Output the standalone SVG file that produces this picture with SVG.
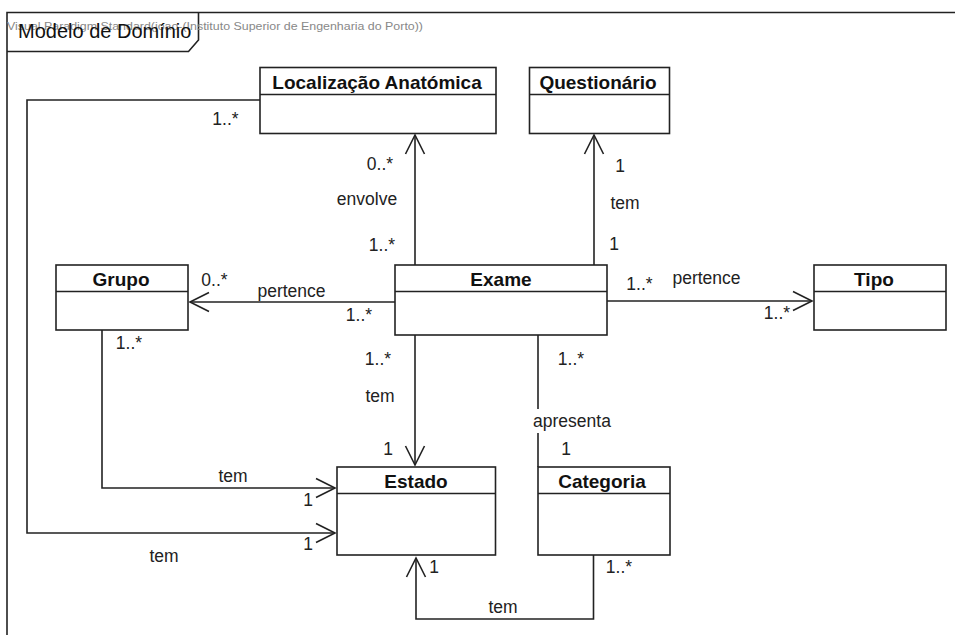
<svg xmlns="http://www.w3.org/2000/svg" width="955" height="635" viewBox="0 0 955 635">
<style>
.box{fill:#fff;stroke:#222;stroke-width:1.6}
.hdr{stroke:#222;stroke-width:1.6}
.name{font-family:"Liberation Sans",Arial,sans-serif;font-weight:bold;font-size:19px;fill:#111;text-anchor:middle}
.lbl{font-family:"Liberation Sans",Arial,sans-serif;font-size:17.5px;fill:#222;text-anchor:middle}
.con{fill:none;stroke:#222;stroke-width:1.6}
</style>
<defs>
<marker id="open" markerUnits="userSpaceOnUse" markerWidth="24" markerHeight="24" viewBox="-21 -12 24 24" refX="0" refY="0" orient="auto">
<path d="M-19,-9.5 L0,0 L-19,9.5" fill="none" stroke="#222" stroke-width="1.6"/>
</marker>
</defs>
<rect width="955" height="635" fill="#fff"/>
<g id="frame">
<path d="M7,635 L7,12.5 L955,12.5" fill="none" stroke="#222" stroke-width="1.6"/>
<path d="M7,51.5 L188.5,51.5 L198.5,40 L198.5,12.5" fill="none" stroke="#222" stroke-width="1.6"/>
<text x="7" y="30" font-family="'Liberation Sans',Arial,sans-serif" font-size="11.5" fill="#888" textLength="416" lengthAdjust="spacingAndGlyphs">Visual Paradigm Standard(joao-(Instituto Superior de Engenharia do Porto))</text>
<text x="18" y="37.5" font-family="'Liberation Sans',Arial,sans-serif" font-size="20" fill="#111">Modelo de Domínio</text>
</g>
<g id="connectors">
<line class="con" x1="415" y1="265" x2="415" y2="135" marker-end="url(#open)"/>
<line class="con" x1="594" y1="265" x2="594" y2="135" marker-end="url(#open)"/>
<line class="con" x1="395" y1="302" x2="190" y2="302" marker-end="url(#open)"/>
<line class="con" x1="607" y1="301" x2="812" y2="301" marker-end="url(#open)"/>
<line class="con" x1="415" y1="335" x2="415" y2="465" marker-end="url(#open)"/>
<line class="con" x1="538" y1="335" x2="538" y2="467"/>
<polyline class="con" points="102,330 102,488 335,488" marker-end="url(#open)"/>
<polyline class="con" points="260,100 27,100 27,533 335,533" marker-end="url(#open)"/>
<polyline class="con" points="593.5,555 593.5,619 416,619 416,558" marker-end="url(#open)"/>
<rect x="530" y="409" width="16" height="24" fill="#fff"/>
<text class="lbl" x="225.5" y="125">1..*</text>
<text class="lbl" x="380" y="170">0..*</text>
<text class="lbl" x="367" y="205">envolve</text>
<text class="lbl" x="382" y="251">1..*</text>
<text class="lbl" x="620" y="172">1</text>
<text class="lbl" x="625" y="209">tem</text>
<text class="lbl" x="614" y="250">1</text>
<text class="lbl" x="214.5" y="286">0..*</text>
<text class="lbl" x="291.5" y="297">pertence</text>
<text class="lbl" x="359" y="321">1..*</text>
<text class="lbl" x="639.5" y="290">1..*</text>
<text class="lbl" x="706.5" y="284">pertence</text>
<text class="lbl" x="777" y="319">1..*</text>
<text class="lbl" x="129" y="349">1..*</text>
<text class="lbl" x="378" y="365">1..*</text>
<text class="lbl" x="380" y="402">tem</text>
<text class="lbl" x="388" y="455">1</text>
<text class="lbl" x="571" y="365">1..*</text>
<text class="lbl" x="572" y="427">apresenta</text>
<text class="lbl" x="566" y="455">1</text>
<text class="lbl" x="233" y="482">tem</text>
<text class="lbl" x="308" y="506">1</text>
<text class="lbl" x="308" y="550">1</text>
<text class="lbl" x="164" y="562">tem</text>
<text class="lbl" x="434" y="573">1</text>
<text class="lbl" x="619" y="573">1..*</text>
<text class="lbl" x="503" y="613">tem</text>
</g>
<g id="localizacao">
<rect class="box" x="260" y="67.5" width="236" height="66"/>
<line class="hdr" x1="260" y1="94.5" x2="496" y2="94.5"/>
<text class="name" x="377" y="88.5">Localização Anatómica</text>
</g>
<g id="questionario">
<rect class="box" x="529.5" y="67.5" width="140" height="66"/>
<line class="hdr" x1="529.5" y1="94.5" x2="669.5" y2="94.5"/>
<text class="name" x="598" y="88.5">Questionário</text>
</g>
<g id="exame">
<rect class="box" x="395" y="265" width="212" height="70"/>
<line class="hdr" x1="395" y1="291.5" x2="607" y2="291.5"/>
<text class="name" x="501" y="286">Exame</text>
</g>
<g id="grupo">
<rect class="box" x="56" y="265" width="132" height="65"/>
<line class="hdr" x1="56" y1="291.5" x2="188" y2="291.5"/>
<text class="name" x="121" y="286">Grupo</text>
</g>
<g id="tipo">
<rect class="box" x="814" y="265" width="132" height="65"/>
<line class="hdr" x1="814" y1="291.5" x2="946" y2="291.5"/>
<text class="name" x="874" y="286">Tipo</text>
</g>
<g id="estado">
<rect class="box" x="337" y="467" width="158.5" height="88"/>
<line class="hdr" x1="337" y1="493.5" x2="495.5" y2="493.5"/>
<text class="name" x="416" y="488">Estado</text>
</g>
<g id="categoria">
<rect class="box" x="538" y="467" width="132" height="88"/>
<line class="hdr" x1="538" y1="493.5" x2="670" y2="493.5"/>
<text class="name" x="602" y="488">Categoria</text>
</g>
</svg>
